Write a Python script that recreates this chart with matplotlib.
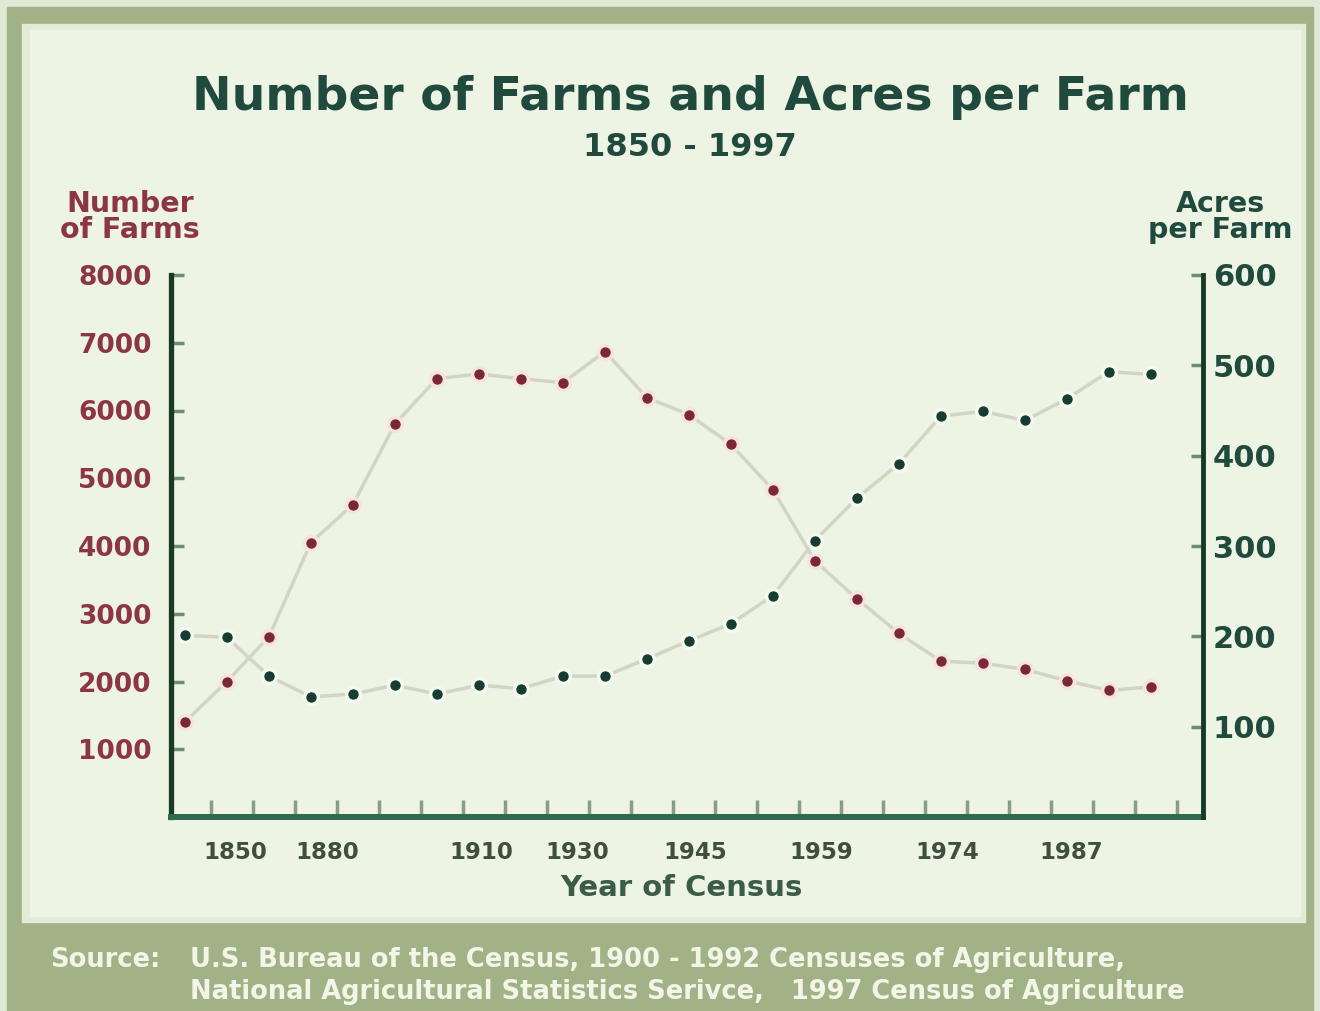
import numpy as np
import matplotlib
matplotlib.use("Agg")
import matplotlib.pyplot as plt
from matplotlib.patches import Rectangle

# ---- data -----------------------------------------------------------------
census_years = [1850, 1860, 1870, 1880, 1890, 1900, 1910, 1920, 1925, 1930,
                1935, 1940, 1945, 1950, 1954, 1959, 1964, 1969, 1974, 1978,
                1982, 1987, 1992, 1997]
farms_thousands = [1400, 2000, 2660, 4050, 4610, 5800, 6470, 6540, 6470, 6410,
                   6870, 6190, 5940, 5500, 4830, 3780, 3220, 2710, 2300, 2270,
                   2180, 2010, 1870, 1920]
acres_per_farm = [201, 199, 156, 133, 136, 146, 136, 146, 142, 156,
                  156, 175, 195, 214, 245, 306, 353, 391, 444, 449,
                  439, 463, 493, 490]
year_labels = ["1850", "1880", "1910", "1930", "1945", "1959", "1974", "1987"]
farm_ticks = [1000, 2000, 3000, 4000, 5000, 6000, 7000, 8000]
acre_ticks = [100, 200, 300, 400, 500, 600]

# layout of the x labels / tick marks (as placed in the original graphic)
label_pos = [1.2, 3.4, 7.05, 9.35, 12.15, 15.15, 18.15, 21.1]
tick_pos = np.arange(len(census_years)) + 0.62

# ---- colours ---------------------------------------------------------------
panel_color = "#eef4e4"
frame_green = "#a0b286"
red = "#7a2832"
red_text = "#8c3645"
green = "#173d31"
green_text = "#1f4a3d"
line_color = "#d2d4c4"

fig = plt.figure(figsize=(13.2, 10.11), dpi=100)
fig.patch.set_facecolor("#e0e8d6")

# background frame drawn in pixel coordinates
bg = fig.add_axes([0, 0, 1, 1])
bg.set_xlim(0, 1320)
bg.set_ylim(1011, 0)
bg.axis("off")
bg.add_patch(Rectangle((7, 7), 1306, 1010, color=frame_green, zorder=0))
bg.add_patch(Rectangle((22, 24), 1283, 898, color="#e3ebd8", zorder=1))
bg.add_patch(Rectangle((30, 30), 1270, 886, color=panel_color, zorder=2))

# title and labels
bg.text(690, 97, "Number of Farms and Acres per Farm", ha="center", va="center",
        fontsize=34, fontweight="bold", color=green_text, zorder=3)
bg.text(690, 147, "1850 - 1997", ha="center", va="center",
        fontsize=23, fontweight="bold", color=green_text, zorder=3)
bg.text(130, 217, "Number\nof Farms", ha="center", va="center", linespacing=0.95,
        fontsize=20.5, fontweight="bold", color=red_text, zorder=3)
bg.text(1220, 217, "Acres\nper Farm", ha="center", va="center", linespacing=0.95,
        fontsize=20.5, fontweight="bold", color=green_text, zorder=3)
bg.text(682, 888, "Year of Census", ha="center", va="center",
        fontsize=21, fontweight="bold", color="#3b5d48", zorder=3)

# source footer
src_color = "#f3f5e8"
bg.text(50, 960, "Source:", ha="left", va="center", fontsize=18.5,
        fontweight="bold", color=src_color, zorder=3)
bg.text(190, 960, "U.S. Bureau of the Census, 1900 - 1992 Censuses of Agriculture,",
        ha="left", va="center", fontsize=18.5, fontweight="bold", color=src_color, zorder=3)
bg.text(190, 992, "National Agricultural Statistics Serivce,   1997 Census of Agriculture",
        ha="left", va="center", fontsize=18.5, fontweight="bold", color=src_color, zorder=3)

# ---- main axes -------------------------------------------------------------
x = np.arange(len(census_years))

ax = fig.add_axes([171 / 1320, 1 - 817 / 1011, (1203 - 171) / 1320, (817 - 275) / 1011])
ax.patch.set_alpha(0)
ax.set_xlim(-0.33, 24.24)
ax.set_ylim(0, 8000)

ax2 = ax.twinx()
ax2.set_ylim(0, 600)

ax.plot(x, farms_thousands, color=line_color, lw=2.5, zorder=2)
ax.plot(x, farms_thousands, ls="none", marker="o", ms=10, mfc=red, mec="#f7e4e2",
        mew=2.5, zorder=4)
ax2.plot(x, acres_per_farm, color=line_color, lw=2.5, zorder=2)
ax2.plot(x, acres_per_farm, ls="none", marker="o", ms=10, mfc=green, mec="#f3f9f1",
         mew=2.5, zorder=4)

# spines
ax.spines["top"].set_visible(False)
ax2.spines["top"].set_visible(False)
ax.spines["left"].set_color("#1b3a25")
ax.spines["left"].set_linewidth(3.8)
ax.spines["bottom"].set_color("#2f6a50")
ax.spines["bottom"].set_linewidth(4.3)
ax.spines["right"].set_visible(False)
ax2.spines["left"].set_visible(False)
ax2.spines["bottom"].set_visible(False)
ax2.spines["right"].set_color("#163a26")
ax2.spines["right"].set_linewidth(3.5)

# left ticks
ax.set_yticks(farm_ticks)
ax.set_yticklabels([str(v) for v in farm_ticks])
ax.tick_params(axis="y", direction="in", length=9, width=2.5, color="#6f8b70",
               pad=14, labelsize=19, labelcolor=red_text)
for t in ax.get_yticklabels():
    t.set_fontweight("bold")

# right ticks
ax2.set_yticks(acre_ticks)
ax2.set_yticklabels([str(v) for v in acre_ticks])
ax2.tick_params(axis="y", direction="in", length=9, width=2.5, color="#6f8b70",
                pad=7, labelsize=22, labelcolor=green_text)
for t in ax2.get_yticklabels():
    t.set_fontweight("bold")

# bottom ticks: marks on major, labels on minor
ax.set_xticks(tick_pos)
ax.set_xticklabels([])
ax.tick_params(axis="x", which="major", direction="in", length=12, width=2.5,
               color="#8a9d88")
ax.set_xticks(label_pos, minor=True)
ax.set_xticklabels(year_labels, minor=True)
ax.tick_params(axis="x", which="minor", length=0, pad=17, labelsize=16.5,
               labelcolor="#3e4f40")
for t in ax.get_xticklabels(minor=True):
    t.set_fontweight("bold")

fig.savefig("out.png", dpi=100, facecolor=fig.get_facecolor())
